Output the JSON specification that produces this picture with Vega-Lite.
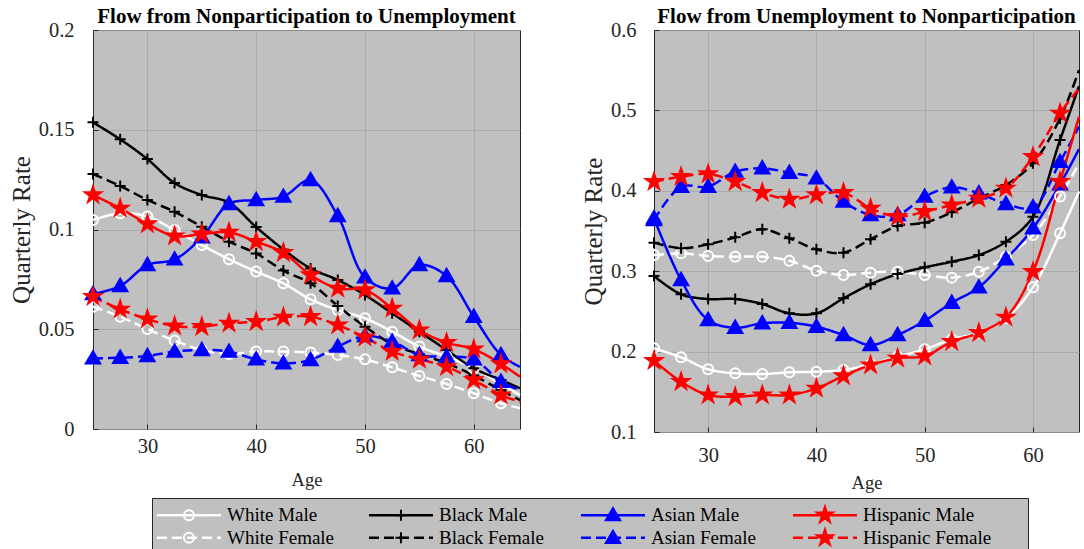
{
  "$schema": "https://vega.github.io/schema/vega-lite/v6.json",
  "background": "white",
  "padding": {"left": 8, "top": 5, "right": 0, "bottom": 0},
  "config": {
    "font": "Liberation Serif",
    "view": {"fill": "#C0C0C0", "stroke": "#262626", "strokeWidth": 1},
    "axis": {
      "labelFont": "Liberation Serif", "labelFontSize": 20.5, "labelColor": "#262626", "labelFlush": false,
      "titleFont": "Liberation Serif", "titleFontWeight": "normal", "titleColor": "#262626",
      "gridColor": "#A6A6A6", "gridWidth": 0.8, "gridOpacity": 1,
      "domain": false, "tickColor": "#262626", "tickSize": -5, "tickWidth": 1
    },
    "axisX": {"titleFontSize": 18.5},
    "axisY": {"titleFontSize": 25},
    "title": {"font": "Liberation Serif", "fontSize": 21, "fontWeight": "bold", "color": "#000000", "anchor": "middle", "frame": "group", "offset": -7},
    "point": {"opacity": 1},
    "legend": {"disable": true}
  },
  "datasets": {
    "groups": [
      {"race": "White", "sex": "Male", "label": "White Male"},
      {"race": "White", "sex": "Female", "label": "White Female"},
      {"race": "Black", "sex": "Male", "label": "Black Male"},
      {"race": "Black", "sex": "Female", "label": "Black Female"},
      {"race": "Asian", "sex": "Male", "label": "Asian Male"},
      {"race": "Asian", "sex": "Female", "label": "Asian Female"},
      {"race": "Hispanic", "sex": "Male", "label": "Hispanic Male"},
      {"race": "Hispanic", "sex": "Female", "label": "Hispanic Female"}
    ],
    "flows": [
      {"flow":"NU","race":"White","sex":"Male","age":25,"rate":0.1048},
      {"flow":"NU","race":"White","sex":"Male","age":27.5,"rate":0.1081},
      {"flow":"NU","race":"White","sex":"Male","age":30,"rate":0.1065},
      {"flow":"NU","race":"White","sex":"Male","age":32.5,"rate":0.0997},
      {"flow":"NU","race":"White","sex":"Male","age":35,"rate":0.0922},
      {"flow":"NU","race":"White","sex":"Male","age":37.5,"rate":0.0851},
      {"flow":"NU","race":"White","sex":"Male","age":40,"rate":0.0789},
      {"flow":"NU","race":"White","sex":"Male","age":42.5,"rate":0.0730},
      {"flow":"NU","race":"White","sex":"Male","age":45,"rate":0.0650},
      {"flow":"NU","race":"White","sex":"Male","age":47.5,"rate":0.0596},
      {"flow":"NU","race":"White","sex":"Male","age":50,"rate":0.0555},
      {"flow":"NU","race":"White","sex":"Male","age":52.5,"rate":0.0488},
      {"flow":"NU","race":"White","sex":"Male","age":55,"rate":0.0413},
      {"flow":"NU","race":"White","sex":"Male","age":57.5,"rate":0.0363},
      {"flow":"NU","race":"White","sex":"Male","age":60,"rate":0.0305},
      {"flow":"NU","race":"White","sex":"Male","age":62.5,"rate":0.0225},
      {"flow":"NU","race":"White","sex":"Male","age":64.25,"rate":0.0170},
      {"flow":"NU","race":"White","sex":"Female","age":25,"rate":0.0613},
      {"flow":"NU","race":"White","sex":"Female","age":27.5,"rate":0.0563},
      {"flow":"NU","race":"White","sex":"Female","age":30,"rate":0.0501},
      {"flow":"NU","race":"White","sex":"Female","age":32.5,"rate":0.0443},
      {"flow":"NU","race":"White","sex":"Female","age":35,"rate":0.0396},
      {"flow":"NU","race":"White","sex":"Female","age":37.5,"rate":0.0376},
      {"flow":"NU","race":"White","sex":"Female","age":40,"rate":0.0388},
      {"flow":"NU","race":"White","sex":"Female","age":42.5,"rate":0.0388},
      {"flow":"NU","race":"White","sex":"Female","age":45,"rate":0.0383},
      {"flow":"NU","race":"White","sex":"Female","age":47.5,"rate":0.0371},
      {"flow":"NU","race":"White","sex":"Female","age":50,"rate":0.0349},
      {"flow":"NU","race":"White","sex":"Female","age":52.5,"rate":0.0309},
      {"flow":"NU","race":"White","sex":"Female","age":55,"rate":0.0266},
      {"flow":"NU","race":"White","sex":"Female","age":57.5,"rate":0.0226},
      {"flow":"NU","race":"White","sex":"Female","age":60,"rate":0.0179},
      {"flow":"NU","race":"White","sex":"Female","age":62.5,"rate":0.0129},
      {"flow":"NU","race":"White","sex":"Female","age":64.25,"rate":0.0104},
      {"flow":"NU","race":"Black","sex":"Male","age":25,"rate":0.1537},
      {"flow":"NU","race":"Black","sex":"Male","age":27.5,"rate":0.1452},
      {"flow":"NU","race":"Black","sex":"Male","age":30,"rate":0.1353},
      {"flow":"NU","race":"Black","sex":"Male","age":32.5,"rate":0.1233},
      {"flow":"NU","race":"Black","sex":"Male","age":35,"rate":0.1173},
      {"flow":"NU","race":"Black","sex":"Male","age":37.5,"rate":0.1135},
      {"flow":"NU","race":"Black","sex":"Male","age":40,"rate":0.1012},
      {"flow":"NU","race":"Black","sex":"Male","age":42.5,"rate":0.0900},
      {"flow":"NU","race":"Black","sex":"Male","age":45,"rate":0.0805},
      {"flow":"NU","race":"Black","sex":"Male","age":47.5,"rate":0.0747},
      {"flow":"NU","race":"Black","sex":"Male","age":50,"rate":0.0672},
      {"flow":"NU","race":"Black","sex":"Male","age":52.5,"rate":0.0580},
      {"flow":"NU","race":"Black","sex":"Male","age":55,"rate":0.0488},
      {"flow":"NU","race":"Black","sex":"Male","age":57.5,"rate":0.0396},
      {"flow":"NU","race":"Black","sex":"Male","age":60,"rate":0.0304},
      {"flow":"NU","race":"Black","sex":"Male","age":62.5,"rate":0.0246},
      {"flow":"NU","race":"Black","sex":"Male","age":64.25,"rate":0.0204},
      {"flow":"NU","race":"Black","sex":"Female","age":25,"rate":0.1278},
      {"flow":"NU","race":"Black","sex":"Female","age":27.5,"rate":0.1218},
      {"flow":"NU","race":"Black","sex":"Female","age":30,"rate":0.1148},
      {"flow":"NU","race":"Black","sex":"Female","age":32.5,"rate":0.1089},
      {"flow":"NU","race":"Black","sex":"Female","age":35,"rate":0.1014},
      {"flow":"NU","race":"Black","sex":"Female","age":37.5,"rate":0.0939},
      {"flow":"NU","race":"Black","sex":"Female","age":40,"rate":0.0880},
      {"flow":"NU","race":"Black","sex":"Female","age":42.5,"rate":0.0794},
      {"flow":"NU","race":"Black","sex":"Female","age":45,"rate":0.0730},
      {"flow":"NU","race":"Black","sex":"Female","age":47.5,"rate":0.0617},
      {"flow":"NU","race":"Black","sex":"Female","age":50,"rate":0.0513},
      {"flow":"NU","race":"Black","sex":"Female","age":52.5,"rate":0.0425},
      {"flow":"NU","race":"Black","sex":"Female","age":55,"rate":0.0375},
      {"flow":"NU","race":"Black","sex":"Female","age":57.5,"rate":0.0330},
      {"flow":"NU","race":"Black","sex":"Female","age":60,"rate":0.0268},
      {"flow":"NU","race":"Black","sex":"Female","age":62.5,"rate":0.0195},
      {"flow":"NU","race":"Black","sex":"Female","age":64.25,"rate":0.0145},
      {"flow":"NU","race":"Asian","sex":"Male","age":25,"rate":0.0677},
      {"flow":"NU","race":"Asian","sex":"Male","age":27.5,"rate":0.0717},
      {"flow":"NU","race":"Asian","sex":"Male","age":30,"rate":0.0822},
      {"flow":"NU","race":"Asian","sex":"Male","age":32.5,"rate":0.0850},
      {"flow":"NU","race":"Asian","sex":"Male","age":35,"rate":0.0961},
      {"flow":"NU","race":"Asian","sex":"Male","age":37.5,"rate":0.1128},
      {"flow":"NU","race":"Asian","sex":"Male","age":40,"rate":0.1148},
      {"flow":"NU","race":"Asian","sex":"Male","age":42.5,"rate":0.1165},
      {"flow":"NU","race":"Asian","sex":"Male","age":45,"rate":0.1248},
      {"flow":"NU","race":"Asian","sex":"Male","age":47.5,"rate":0.1068},
      {"flow":"NU","race":"Asian","sex":"Male","age":50,"rate":0.0760},
      {"flow":"NU","race":"Asian","sex":"Male","age":52.5,"rate":0.0705},
      {"flow":"NU","race":"Asian","sex":"Male","age":55,"rate":0.0822},
      {"flow":"NU","race":"Asian","sex":"Male","age":57.5,"rate":0.0767},
      {"flow":"NU","race":"Asian","sex":"Male","age":60,"rate":0.0563},
      {"flow":"NU","race":"Asian","sex":"Male","age":62.5,"rate":0.0371},
      {"flow":"NU","race":"Asian","sex":"Male","age":64.25,"rate":0.0312},
      {"flow":"NU","race":"Asian","sex":"Female","age":25,"rate":0.0354},
      {"flow":"NU","race":"Asian","sex":"Female","age":27.5,"rate":0.0357},
      {"flow":"NU","race":"Asian","sex":"Female","age":30,"rate":0.0366},
      {"flow":"NU","race":"Asian","sex":"Female","age":32.5,"rate":0.0388},
      {"flow":"NU","race":"Asian","sex":"Female","age":35,"rate":0.0396},
      {"flow":"NU","race":"Asian","sex":"Female","age":37.5,"rate":0.0388},
      {"flow":"NU","race":"Asian","sex":"Female","age":40,"rate":0.0349},
      {"flow":"NU","race":"Asian","sex":"Female","age":42.5,"rate":0.0329},
      {"flow":"NU","race":"Asian","sex":"Female","age":45,"rate":0.0346},
      {"flow":"NU","race":"Asian","sex":"Female","age":47.5,"rate":0.0413},
      {"flow":"NU","race":"Asian","sex":"Female","age":50,"rate":0.0466},
      {"flow":"NU","race":"Asian","sex":"Female","age":52.5,"rate":0.0438},
      {"flow":"NU","race":"Asian","sex":"Female","age":55,"rate":0.0371},
      {"flow":"NU","race":"Asian","sex":"Female","age":57.5,"rate":0.0363},
      {"flow":"NU","race":"Asian","sex":"Female","age":60,"rate":0.0349},
      {"flow":"NU","race":"Asian","sex":"Female","age":62.5,"rate":0.0237},
      {"flow":"NU","race":"Asian","sex":"Female","age":64.25,"rate":0.0195},
      {"flow":"NU","race":"Hispanic","sex":"Male","age":25,"rate":0.1173},
      {"flow":"NU","race":"Hispanic","sex":"Male","age":27.5,"rate":0.1106},
      {"flow":"NU","race":"Hispanic","sex":"Male","age":30,"rate":0.1028},
      {"flow":"NU","race":"Hispanic","sex":"Male","age":32.5,"rate":0.0967},
      {"flow":"NU","race":"Hispanic","sex":"Male","age":35,"rate":0.0977},
      {"flow":"NU","race":"Hispanic","sex":"Male","age":37.5,"rate":0.0986},
      {"flow":"NU","race":"Hispanic","sex":"Male","age":40,"rate":0.0939},
      {"flow":"NU","race":"Hispanic","sex":"Male","age":42.5,"rate":0.0884},
      {"flow":"NU","race":"Hispanic","sex":"Male","age":45,"rate":0.0772},
      {"flow":"NU","race":"Hispanic","sex":"Male","age":47.5,"rate":0.0705},
      {"flow":"NU","race":"Hispanic","sex":"Male","age":50,"rate":0.0697},
      {"flow":"NU","race":"Hispanic","sex":"Male","age":52.5,"rate":0.0605},
      {"flow":"NU","race":"Hispanic","sex":"Male","age":55,"rate":0.0496},
      {"flow":"NU","race":"Hispanic","sex":"Male","age":57.5,"rate":0.0433},
      {"flow":"NU","race":"Hispanic","sex":"Male","age":60,"rate":0.0400},
      {"flow":"NU","race":"Hispanic","sex":"Male","age":62.5,"rate":0.0326},
      {"flow":"NU","race":"Hispanic","sex":"Male","age":64.25,"rate":0.0262},
      {"flow":"NU","race":"Hispanic","sex":"Female","age":25,"rate":0.0663},
      {"flow":"NU","race":"Hispanic","sex":"Female","age":27.5,"rate":0.0600},
      {"flow":"NU","race":"Hispanic","sex":"Female","age":30,"rate":0.0551},
      {"flow":"NU","race":"Hispanic","sex":"Female","age":32.5,"rate":0.0516},
      {"flow":"NU","race":"Hispanic","sex":"Female","age":35,"rate":0.0513},
      {"flow":"NU","race":"Hispanic","sex":"Female","age":37.5,"rate":0.0530},
      {"flow":"NU","race":"Hispanic","sex":"Female","age":40,"rate":0.0538},
      {"flow":"NU","race":"Hispanic","sex":"Female","age":42.5,"rate":0.0560},
      {"flow":"NU","race":"Hispanic","sex":"Female","age":45,"rate":0.0563},
      {"flow":"NU","race":"Hispanic","sex":"Female","age":47.5,"rate":0.0521},
      {"flow":"NU","race":"Hispanic","sex":"Female","age":50,"rate":0.0460},
      {"flow":"NU","race":"Hispanic","sex":"Female","age":52.5,"rate":0.0388},
      {"flow":"NU","race":"Hispanic","sex":"Female","age":55,"rate":0.0349},
      {"flow":"NU","race":"Hispanic","sex":"Female","age":57.5,"rate":0.0312},
      {"flow":"NU","race":"Hispanic","sex":"Female","age":60,"rate":0.0246},
      {"flow":"NU","race":"Hispanic","sex":"Female","age":62.5,"rate":0.0170},
      {"flow":"NU","race":"Hispanic","sex":"Female","age":64.25,"rate":0.0137},
      {"flow":"UN","race":"White","sex":"Male","age":25,"rate":0.2041},
      {"flow":"UN","race":"White","sex":"Male","age":27.5,"rate":0.1929},
      {"flow":"UN","race":"White","sex":"Male","age":30,"rate":0.1780},
      {"flow":"UN","race":"White","sex":"Male","age":32.5,"rate":0.1730},
      {"flow":"UN","race":"White","sex":"Male","age":35,"rate":0.1721},
      {"flow":"UN","race":"White","sex":"Male","age":37.5,"rate":0.1742},
      {"flow":"UN","race":"White","sex":"Male","age":40,"rate":0.1750},
      {"flow":"UN","race":"White","sex":"Male","age":42.5,"rate":0.1771},
      {"flow":"UN","race":"White","sex":"Male","age":45,"rate":0.1842},
      {"flow":"UN","race":"White","sex":"Male","age":47.5,"rate":0.1937},
      {"flow":"UN","race":"White","sex":"Male","age":50,"rate":0.2028},
      {"flow":"UN","race":"White","sex":"Male","age":52.5,"rate":0.2153},
      {"flow":"UN","race":"White","sex":"Male","age":55,"rate":0.2235},
      {"flow":"UN","race":"White","sex":"Male","age":57.5,"rate":0.2414},
      {"flow":"UN","race":"White","sex":"Male","age":60,"rate":0.2799},
      {"flow":"UN","race":"White","sex":"Male","age":62.5,"rate":0.3471},
      {"flow":"UN","race":"White","sex":"Male","age":64.25,"rate":0.3990},
      {"flow":"UN","race":"White","sex":"Female","age":25,"rate":0.3201},
      {"flow":"UN","race":"White","sex":"Female","age":27.5,"rate":0.3222},
      {"flow":"UN","race":"White","sex":"Female","age":30,"rate":0.3189},
      {"flow":"UN","race":"White","sex":"Female","age":32.5,"rate":0.3180},
      {"flow":"UN","race":"White","sex":"Female","age":35,"rate":0.3180},
      {"flow":"UN","race":"White","sex":"Female","age":37.5,"rate":0.3130},
      {"flow":"UN","race":"White","sex":"Female","age":40,"rate":0.3006},
      {"flow":"UN","race":"White","sex":"Female","age":42.5,"rate":0.2953},
      {"flow":"UN","race":"White","sex":"Female","age":45,"rate":0.2982},
      {"flow":"UN","race":"White","sex":"Female","age":47.5,"rate":0.2994},
      {"flow":"UN","race":"White","sex":"Female","age":50,"rate":0.2953},
      {"flow":"UN","race":"White","sex":"Female","age":52.5,"rate":0.2920},
      {"flow":"UN","race":"White","sex":"Female","age":55,"rate":0.2994},
      {"flow":"UN","race":"White","sex":"Female","age":57.5,"rate":0.3180},
      {"flow":"UN","race":"White","sex":"Female","age":60,"rate":0.3450},
      {"flow":"UN","race":"White","sex":"Female","age":62.5,"rate":0.3930},
      {"flow":"UN","race":"White","sex":"Female","age":64.25,"rate":0.4340},
      {"flow":"UN","race":"Black","sex":"Male","age":25,"rate":0.2940},
      {"flow":"UN","race":"Black","sex":"Male","age":27.5,"rate":0.2713},
      {"flow":"UN","race":"Black","sex":"Male","age":30,"rate":0.2654},
      {"flow":"UN","race":"Black","sex":"Male","age":32.5,"rate":0.2654},
      {"flow":"UN","race":"Black","sex":"Male","age":35,"rate":0.2592},
      {"flow":"UN","race":"Black","sex":"Male","age":37.5,"rate":0.2476},
      {"flow":"UN","race":"Black","sex":"Male","age":40,"rate":0.2476},
      {"flow":"UN","race":"Black","sex":"Male","age":42.5,"rate":0.2663},
      {"flow":"UN","race":"Black","sex":"Male","age":45,"rate":0.2837},
      {"flow":"UN","race":"Black","sex":"Male","age":47.5,"rate":0.2965},
      {"flow":"UN","race":"Black","sex":"Male","age":50,"rate":0.3048},
      {"flow":"UN","race":"Black","sex":"Male","age":52.5,"rate":0.3118},
      {"flow":"UN","race":"Black","sex":"Male","age":55,"rate":0.3201},
      {"flow":"UN","race":"Black","sex":"Male","age":57.5,"rate":0.3367},
      {"flow":"UN","race":"Black","sex":"Male","age":60,"rate":0.3678},
      {"flow":"UN","race":"Black","sex":"Male","age":62.5,"rate":0.4632},
      {"flow":"UN","race":"Black","sex":"Male","age":64.25,"rate":0.5300},
      {"flow":"UN","race":"Black","sex":"Female","age":25,"rate":0.3355},
      {"flow":"UN","race":"Black","sex":"Female","age":27.5,"rate":0.3285},
      {"flow":"UN","race":"Black","sex":"Female","age":30,"rate":0.3334},
      {"flow":"UN","race":"Black","sex":"Female","age":32.5,"rate":0.3421},
      {"flow":"UN","race":"Black","sex":"Female","age":35,"rate":0.3521},
      {"flow":"UN","race":"Black","sex":"Female","age":37.5,"rate":0.3409},
      {"flow":"UN","race":"Black","sex":"Female","age":40,"rate":0.3272},
      {"flow":"UN","race":"Black","sex":"Female","age":42.5,"rate":0.3230},
      {"flow":"UN","race":"Black","sex":"Female","age":45,"rate":0.3397},
      {"flow":"UN","race":"Black","sex":"Female","age":47.5,"rate":0.3562},
      {"flow":"UN","race":"Black","sex":"Female","age":50,"rate":0.3603},
      {"flow":"UN","race":"Black","sex":"Female","age":52.5,"rate":0.3732},
      {"flow":"UN","race":"Black","sex":"Female","age":55,"rate":0.3906},
      {"flow":"UN","race":"Black","sex":"Female","age":57.5,"rate":0.4072},
      {"flow":"UN","race":"Black","sex":"Female","age":60,"rate":0.4342},
      {"flow":"UN","race":"Black","sex":"Female","age":62.5,"rate":0.4900},
      {"flow":"UN","race":"Black","sex":"Female","age":64.25,"rate":0.5500},
      {"flow":"UN","race":"Asian","sex":"Male","age":25,"rate":0.3658},
      {"flow":"UN","race":"Asian","sex":"Male","age":27.5,"rate":0.2891},
      {"flow":"UN","race":"Asian","sex":"Male","age":30,"rate":0.2393},
      {"flow":"UN","race":"Asian","sex":"Male","age":32.5,"rate":0.2297},
      {"flow":"UN","race":"Asian","sex":"Male","age":35,"rate":0.2352},
      {"flow":"UN","race":"Asian","sex":"Male","age":37.5,"rate":0.2359},
      {"flow":"UN","race":"Asian","sex":"Male","age":40,"rate":0.2310},
      {"flow":"UN","race":"Asian","sex":"Male","age":42.5,"rate":0.2206},
      {"flow":"UN","race":"Asian","sex":"Male","age":45,"rate":0.2082},
      {"flow":"UN","race":"Asian","sex":"Male","age":47.5,"rate":0.2206},
      {"flow":"UN","race":"Asian","sex":"Male","age":50,"rate":0.2384},
      {"flow":"UN","race":"Asian","sex":"Male","age":52.5,"rate":0.2608},
      {"flow":"UN","race":"Asian","sex":"Male","age":55,"rate":0.2799},
      {"flow":"UN","race":"Asian","sex":"Male","age":57.5,"rate":0.3148},
      {"flow":"UN","race":"Asian","sex":"Male","age":60,"rate":0.3533},
      {"flow":"UN","race":"Asian","sex":"Male","age":62.5,"rate":0.4080},
      {"flow":"UN","race":"Asian","sex":"Male","age":64.25,"rate":0.4520},
      {"flow":"UN","race":"Asian","sex":"Female","age":25,"rate":0.3637},
      {"flow":"UN","race":"Asian","sex":"Female","age":27.5,"rate":0.4051},
      {"flow":"UN","race":"Asian","sex":"Female","age":30,"rate":0.4051},
      {"flow":"UN","race":"Asian","sex":"Female","age":32.5,"rate":0.4238},
      {"flow":"UN","race":"Asian","sex":"Female","age":35,"rate":0.4280},
      {"flow":"UN","race":"Asian","sex":"Female","age":37.5,"rate":0.4225},
      {"flow":"UN","race":"Asian","sex":"Female","age":40,"rate":0.4155},
      {"flow":"UN","race":"Asian","sex":"Female","age":42.5,"rate":0.3865},
      {"flow":"UN","race":"Asian","sex":"Female","age":45,"rate":0.3699},
      {"flow":"UN","race":"Asian","sex":"Female","age":47.5,"rate":0.3699},
      {"flow":"UN","race":"Asian","sex":"Female","age":50,"rate":0.3927},
      {"flow":"UN","race":"Asian","sex":"Female","age":52.5,"rate":0.4043},
      {"flow":"UN","race":"Asian","sex":"Female","age":55,"rate":0.3969},
      {"flow":"UN","race":"Asian","sex":"Female","age":57.5,"rate":0.3836},
      {"flow":"UN","race":"Asian","sex":"Female","age":60,"rate":0.3795},
      {"flow":"UN","race":"Asian","sex":"Female","age":62.5,"rate":0.4360},
      {"flow":"UN","race":"Asian","sex":"Female","age":64.25,"rate":0.4800},
      {"flow":"UN","race":"Hispanic","sex":"Male","age":25,"rate":0.1887},
      {"flow":"UN","race":"Hispanic","sex":"Male","age":27.5,"rate":0.1626},
      {"flow":"UN","race":"Hispanic","sex":"Male","age":30,"rate":0.1460},
      {"flow":"UN","race":"Hispanic","sex":"Male","age":32.5,"rate":0.1439},
      {"flow":"UN","race":"Hispanic","sex":"Male","age":35,"rate":0.1460},
      {"flow":"UN","race":"Hispanic","sex":"Male","age":37.5,"rate":0.1460},
      {"flow":"UN","race":"Hispanic","sex":"Male","age":40,"rate":0.1543},
      {"flow":"UN","race":"Hispanic","sex":"Male","age":42.5,"rate":0.1697},
      {"flow":"UN","race":"Hispanic","sex":"Male","age":45,"rate":0.1833},
      {"flow":"UN","race":"Hispanic","sex":"Male","age":47.5,"rate":0.1917},
      {"flow":"UN","race":"Hispanic","sex":"Male","age":50,"rate":0.1945},
      {"flow":"UN","race":"Hispanic","sex":"Male","age":52.5,"rate":0.2123},
      {"flow":"UN","race":"Hispanic","sex":"Male","age":55,"rate":0.2235},
      {"flow":"UN","race":"Hispanic","sex":"Male","age":57.5,"rate":0.2427},
      {"flow":"UN","race":"Hispanic","sex":"Male","age":60,"rate":0.2994},
      {"flow":"UN","race":"Hispanic","sex":"Male","age":62.5,"rate":0.4113},
      {"flow":"UN","race":"Hispanic","sex":"Male","age":64.25,"rate":0.4920},
      {"flow":"UN","race":"Hispanic","sex":"Female","age":25,"rate":0.4113},
      {"flow":"UN","race":"Hispanic","sex":"Female","age":27.5,"rate":0.4176},
      {"flow":"UN","race":"Hispanic","sex":"Female","age":30,"rate":0.4209},
      {"flow":"UN","race":"Hispanic","sex":"Female","age":32.5,"rate":0.4113},
      {"flow":"UN","race":"Hispanic","sex":"Female","age":35,"rate":0.3977},
      {"flow":"UN","race":"Hispanic","sex":"Female","age":37.5,"rate":0.3894},
      {"flow":"UN","race":"Hispanic","sex":"Female","age":40,"rate":0.3948},
      {"flow":"UN","race":"Hispanic","sex":"Female","age":42.5,"rate":0.3977},
      {"flow":"UN","race":"Hispanic","sex":"Female","age":45,"rate":0.3782},
      {"flow":"UN","race":"Hispanic","sex":"Female","age":47.5,"rate":0.3678},
      {"flow":"UN","race":"Hispanic","sex":"Female","age":50,"rate":0.3740},
      {"flow":"UN","race":"Hispanic","sex":"Female","age":52.5,"rate":0.3823},
      {"flow":"UN","race":"Hispanic","sex":"Female","age":55,"rate":0.3906},
      {"flow":"UN","race":"Hispanic","sex":"Female","age":57.5,"rate":0.4031},
      {"flow":"UN","race":"Hispanic","sex":"Female","age":60,"rate":0.4424},
      {"flow":"UN","race":"Hispanic","sex":"Female","age":62.5,"rate":0.4964},
      {"flow":"UN","race":"Hispanic","sex":"Female","age":64.25,"rate":0.5275}
    ]
  },
  "resolve": {"scale": {"x": "independent", "y": "independent"}},
  "spacing": 4,
  "vconcat": [
    {
      "spacing": 54,
      "resolve": {"scale": {"x": "independent", "y": "independent"}},
      "hconcat": [
        {
          "title": "Flow from Nonparticipation to Unemployment",
          "width": 427,
          "height": 399,
          "data": {"name": "flows"},
          "transform": [{"filter": "datum.flow === 'NU'"}],
          "encoding": {
            "x": {"field": "age", "type": "quantitative", "scale": {"domain": [25, 64.25], "nice": false, "zero": false},
                  "axis": {"values": [30, 40, 50, 60], "title": "Age", "labelPadding": 12, "titlePadding": 14}},
            "y": {"field": "rate", "type": "quantitative", "scale": {"domain": [0, 0.2], "nice": false, "zero": false},
                  "axis": {"values": [0, 0.05, 0.1, 0.15, 0.2], "format": "~g", "title": "Quarterly Rate", "labelPadding": 24, "titlePadding": 4}}
          },
          "layer": [
            {
              "mark": {"type": "line", "interpolate": "catmull-rom", "strokeWidth": 2.5},
              "encoding": {
                "stroke": {"field": "race", "type": "nominal", "scale": {"domain": ["White", "Black", "Asian", "Hispanic"], "range": ["#FFFFFF", "#000000", "#0000FF", "#FF0000"]}},
                "strokeDash": {"field": "sex", "type": "nominal", "scale": {"domain": ["Male", "Female"], "range": [[1, 0], [10, 5]]}}
              }
            },
            {
              "transform": [{"filter": "datum.age <= 62.5"}],
              "mark": {"type": "point", "size": 400, "strokeWidth": 2, "opacity": 1},
              "encoding": {
                "shape": {"field": "race", "type": "nominal", "scale": {"domain": ["White", "Black", "Asian", "Hispanic"], "range": ["M0.5,0A0.5,0.5,0,1,1,-0.5,0A0.5,0.5,0,1,1,0.5,0Z", "M-0.55,0L0.55,0M0,-0.55L0,0.55", "M0,-0.72L0.72,0.52L-0.72,0.52Z", "M0,-0.85L0.191,-0.263L0.808,-0.263L0.309,0.1L0.5,0.688L0,0.325L-0.5,0.688L-0.309,0.1L-0.808,-0.263L-0.191,-0.263Z"]}},
                "stroke": {"field": "race", "type": "nominal", "scale": {"domain": ["White", "Black", "Asian", "Hispanic"], "range": ["#FFFFFF", "#000000", "#0000FF", "#FF0000"]}},
                "fill": {"field": "race", "type": "nominal", "scale": {"domain": ["White", "Black", "Asian", "Hispanic"], "range": ["transparent", "transparent", "#0000FF", "#FF0000"]}}
              }
            }
          ]
        },
        {
          "title": "Flow from Unemployment to Nonparticipation",
          "width": 425,
          "height": 402,
          "data": {"name": "flows"},
          "transform": [{"filter": "datum.flow === 'UN'"}],
          "encoding": {
            "x": {"field": "age", "type": "quantitative", "scale": {"domain": [25, 64.25], "nice": false, "zero": false},
                  "axis": {"values": [30, 40, 50, 60], "title": "Age", "labelPadding": 18, "titlePadding": 8}},
            "y": {"field": "rate", "type": "quantitative", "scale": {"domain": [0.1, 0.6], "nice": false, "zero": false},
                  "axis": {"values": [0.1, 0.2, 0.3, 0.4, 0.5, 0.6], "format": "~g", "title": "Quarterly Rate", "labelPadding": 23, "titlePadding": 4}}
          },
          "layer": [
            {
              "mark": {"type": "line", "interpolate": "catmull-rom", "strokeWidth": 2.5},
              "encoding": {
                "stroke": {"field": "race", "type": "nominal", "scale": {"domain": ["White", "Black", "Asian", "Hispanic"], "range": ["#FFFFFF", "#000000", "#0000FF", "#FF0000"]}},
                "strokeDash": {"field": "sex", "type": "nominal", "scale": {"domain": ["Male", "Female"], "range": [[1, 0], [10, 5]]}}
              }
            },
            {
              "transform": [{"filter": "datum.age <= 62.5"}],
              "mark": {"type": "point", "size": 400, "strokeWidth": 2, "opacity": 1},
              "encoding": {
                "shape": {"field": "race", "type": "nominal", "scale": {"domain": ["White", "Black", "Asian", "Hispanic"], "range": ["M0.5,0A0.5,0.5,0,1,1,-0.5,0A0.5,0.5,0,1,1,0.5,0Z", "M-0.55,0L0.55,0M0,-0.55L0,0.55", "M0,-0.72L0.72,0.52L-0.72,0.52Z", "M0,-0.85L0.191,-0.263L0.808,-0.263L0.309,0.1L0.5,0.688L0,0.325L-0.5,0.688L-0.309,0.1L-0.808,-0.263L-0.191,-0.263Z"]}},
                "stroke": {"field": "race", "type": "nominal", "scale": {"domain": ["White", "Black", "Asian", "Hispanic"], "range": ["#FFFFFF", "#000000", "#0000FF", "#FF0000"]}},
                "fill": {"field": "race", "type": "nominal", "scale": {"domain": ["White", "Black", "Asian", "Hispanic"], "range": ["transparent", "transparent", "#0000FF", "#FF0000"]}}
              }
            }
          ]
        }
      ]
    },
    {
      "spacing": 20,
      "resolve": {"scale": {"x": "independent", "y": "independent"}},
      "hconcat": [
        {
          "width": 38,
          "height": 57,
          "view": {"fill": null, "stroke": null},
          "data": {"values": [{}]},
          "mark": {"type": "text"}
        },
        {
          "width": 876,
          "height": 57,
          "data": {"name": "groups"},
          "encoding": {
            "x": {"field": "race", "type": "nominal", "scale": {"type": "point", "domain": ["White", "Black", "Asian", "Hispanic"], "padding": 0.566, "align": 0.154}, "axis": null},
            "y": {"field": "sex", "type": "nominal", "scale": {"type": "point", "domain": ["Male", "Female"], "padding": 0.755, "align": 0.5}, "axis": null}
          },
          "layer": [
            {
              "mark": {"type": "point", "shape": "M-1,0L1,0", "size": 4096, "strokeWidth": 2.5, "filled": false, "opacity": 1},
              "encoding": {
                "stroke": {"field": "race", "type": "nominal", "scale": {"domain": ["White", "Black", "Asian", "Hispanic"], "range": ["#FFFFFF", "#000000", "#0000FF", "#FF0000"]}},
                "strokeDash": {"field": "sex", "type": "nominal", "scale": {"domain": ["Male", "Female"], "range": [[1, 0], [10, 5]]}}
              }
            },
            {
              "mark": {"type": "point", "size": 400, "strokeWidth": 2, "opacity": 1},
              "encoding": {
                "shape": {"field": "race", "type": "nominal", "scale": {"domain": ["White", "Black", "Asian", "Hispanic"], "range": ["M0.5,0A0.5,0.5,0,1,1,-0.5,0A0.5,0.5,0,1,1,0.5,0Z", "M-0.55,0L0.55,0M0,-0.55L0,0.55", "M0,-0.72L0.72,0.52L-0.72,0.52Z", "M0,-0.85L0.191,-0.263L0.808,-0.263L0.309,0.1L0.5,0.688L0,0.325L-0.5,0.688L-0.309,0.1L-0.808,-0.263L-0.191,-0.263Z"]}},
                "stroke": {"field": "race", "type": "nominal", "scale": {"domain": ["White", "Black", "Asian", "Hispanic"], "range": ["#FFFFFF", "#000000", "#0000FF", "#FF0000"]}},
                "fill": {"field": "race", "type": "nominal", "scale": {"domain": ["White", "Black", "Asian", "Hispanic"], "range": ["transparent", "transparent", "#0000FF", "#FF0000"]}}
              }
            },
            {
              "mark": {"type": "text", "align": "left", "baseline": "middle", "xOffset": 38, "fontSize": 19, "font": "Liberation Serif", "color": "#000000"},
              "encoding": {"text": {"field": "label", "type": "nominal"}}
            }
          ]
        }
      ]
    }
  ]
}
